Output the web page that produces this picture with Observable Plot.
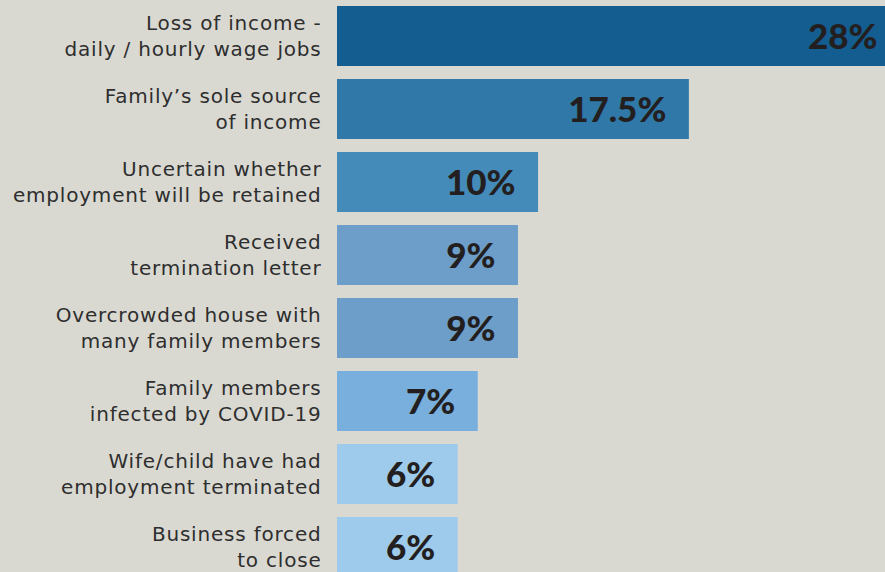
<!DOCTYPE html>
<html>
<head>
<meta charset="utf-8">
<script src="https://cdn.jsdelivr.net/npm/d3@7"></script>
<script src="https://cdn.jsdelivr.net/npm/@observablehq/plot@0.6"></script>
<style>
  html, body { margin: 0; padding: 0; background: #d9d9d2; overflow: hidden; }
  #chart { width: 885px; height: 572px; overflow: hidden; }
  #chart svg { overflow: hidden; }
  #chart g[font-family*="DejaVu"] text { letter-spacing: 0.8px; }
</style>
</head>
<body>
<div id="chart"></div>
<script>
const categories = [
  "Loss of income -\ndaily / hourly wage jobs",
  "Family’s sole source\nof income",
  "Uncertain whether\nemployment will be retained",
  "Received\ntermination letter",
  "Overcrowded house with\nmany family members",
  "Family members\ninfected by COVID-19",
  "Wife/child have had\nemployment terminated",
  "Business forced\nto close"
];
const values = [28, 17.5, 10, 9, 9, 7, 6, 6];
const valueLabels = ["28%", "17.5%", "10%", "9%", "9%", "7%", "6%", "6%"];
const barColors = ["#135d91", "#2f78a8", "#448bba", "#6d9ec9", "#6d9ec9", "#79afdc", "#9ecbeb", "#9ecbeb"];

const data = categories.map((c, i) => ({cat: c, value: values[i], label: valueLabels[i], color: barColors[i]}));

const plot = Plot.plot({
  width: 885,
  height: 572,
  marginTop: 0, marginBottom: 0, marginLeft: 0, marginRight: 0,
  style: {background: "#d9d9d2", overflow: "hidden"},
  x: {domain: [0, 28], range: [337, 900], axis: null},
  y: {domain: categories, range: [-0.5, 583.5], paddingInner: 0.178, paddingOuter: 0.089, axis: null},
  marks: [
    Plot.barX(data, {y: "cat", x: "value", fill: "color"}),
    Plot.text(data, {y: "cat", x: 0, text: "cat", textAnchor: "end", dx: -16, dy: -2, fontSize: 20, lineHeight: 1.3, fill: "#2e2e2e", fontFamily: "'DejaVu Sans', sans-serif"}),
    Plot.text(data, {y: "cat", x: "value", text: "label", textAnchor: "end", dx: -23, dy: 1, fontSize: 35, fontWeight: 900, fill: "#231f20", fontFamily: "Lato, sans-serif"})
  ]
});
document.getElementById("chart").appendChild(plot);
</script>
</body>
</html>
